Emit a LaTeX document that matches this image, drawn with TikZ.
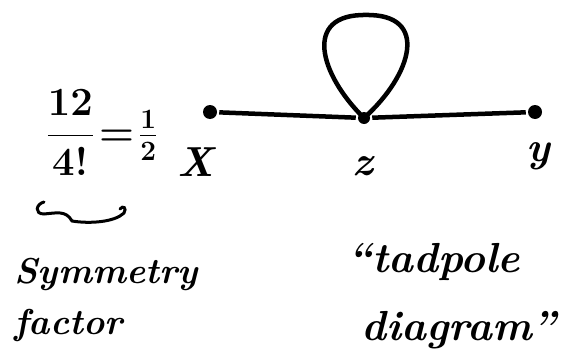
\RequirePackage{fix-cm}
\documentclass[tikz,border=0pt]{standalone}
\usepackage{amsmath}
\usepackage{tikz}

\tikzset{
  vertex/.style={circle, fill=black, inner sep=0pt, minimum size=14pt},
  hand/.style={font=\fontsize{36}{40}\selectfont\bfseries\itshape},
  bighand/.style={font=\fontsize{42}{46}\selectfont\bfseries\itshape},
}

\begin{document}
\begin{tikzpicture}[x=1pt, y=-1pt, line width=4.5pt]
  \useasboundingbox (0,0) rectangle (564,361);
  % line with the loop at z
  \node[vertex] (x) at (210,112) {};
  \node[vertex, minimum size=12pt] (z) at (364,118) {};
  \node[vertex] (y) at (535,112) {};
  \draw (x) -- (z) -- (y);
  \draw (z.center) .. controls (320,75) and (302,14) .. (366,15)
        .. controls (430,14) and (412,75) .. (z.center);
  % vertex labels
  \node[bighand] (xl) at (196,162) {X};
  \node[bighand] (zl) at (363,166) {z};
  \node[bighand] (yl) at (538,156) {y};
  % symmetry factor
  \node[font=\fontsize{40}{44}\selectfont\boldmath] (frac) at (102,133) {$\dfrac{12}{4!}\!=\!\tfrac{1}{2}$};
  \draw[line width=3pt, line cap=round]
    (44,202) .. controls (36,204) and (34,214) .. (44,214)
    .. controls (56,213) and (66,210) .. (72,221)
    .. controls (90,224) and (115,222) .. (124,213)
    .. controls (127,208) and (123,205) .. (120,209);
  \node[hand, anchor=base west] (sym) at (9,283) {Symmetry};
  \node[hand, anchor=base west] (fac) at (9,334) {factor};
  % name of the diagram
  \node[bighand, anchor=base west] (tad) at (342,272) {``tadpole};
  \node[bighand, anchor=base west] (dia) at (356,340) {diagram''};
\end{tikzpicture}
\end{document}
